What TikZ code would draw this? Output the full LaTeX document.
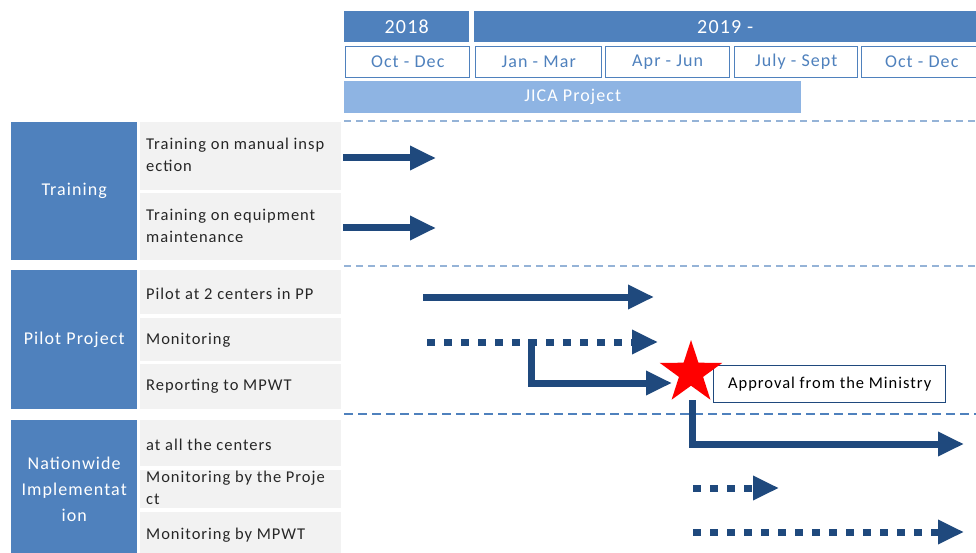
\documentclass[tikz,border=0pt]{standalone}
\usepackage{fontspec}
\setmainfont[LetterSpace=6]{Carlito}
\usetikzlibrary{arrows.meta,shapes.geometric}
\definecolor{hdrblue}{HTML}{4F81BD}
\definecolor{lightblue}{HTML}{8EB4E3}
\definecolor{sepblue}{HTML}{95B3D7}
\definecolor{flowblue}{HTML}{1F497D}
\definecolor{cellgrey}{HTML}{F2F2F2}
\tikzset{
  x=1pt, y=-1pt,
  yearbox/.style={fill=hdrblue, text=white, anchor=north west, inner sep=0pt,
    font=\fontsize{20}{22}\selectfont},
  monthbox/.style={fill=white, draw=hdrblue, line width=1.4pt, text=hdrblue,
    anchor=north west, inner sep=0pt, font=\fontsize{18}{20}\selectfont},
  jicabar/.style={fill=lightblue, text=white, anchor=north west, inner sep=0pt,
    font=\fontsize{18}{20}\selectfont},
  catbox/.style={fill=hdrblue, text=white, anchor=north west, inner sep=0pt,
    align=center, font=\fontsize{18}{26}\selectfont},
  taskcell/.style={fill=cellgrey, anchor=north west, inner sep=0pt},
  tasktext/.style={anchor=west, align=left, inner sep=0pt, text=black!85,
    font=\fontsize{16.5}{22}\selectfont},
  sepline/.style={sepblue, line width=2.4pt, dash pattern=on 7pt off 5pt},
  septhin/.style={hdrblue, line width=1.3pt, dash pattern=on 9pt off 5pt},
  flow/.style={flowblue, line width=7pt, -{Triangle[length=26pt,width=23pt]}},
  flowdot/.style={flow, dash pattern=on 8pt off 9pt},
  notebox/.style={fill=white, draw=flowblue, line width=1.4pt, anchor=north west,
    inner sep=0pt, font=\fontsize{16.5}{18}\selectfont}
}
\begin{document}
\begin{tikzpicture}
\useasboundingbox (0,0) rectangle (976,553);

% timeline header
\node[yearbox, minimum width=125pt, minimum height=31pt] (y2018) at (344,11) {2018};
\node[yearbox, minimum width=502pt, minimum height=31pt] (y2019) at (474,11) {2019 -};
\node[monthbox, minimum width=124pt, minimum height=31pt] (q1) at (345,46) {Oct - Dec};
\node[monthbox, minimum width=126pt, minimum height=31pt] (q2) at (475,46) {Jan - Mar};
\node[monthbox, minimum width=124pt, minimum height=31pt] (q3) at (605,46) {Apr - Jun};
\node[monthbox, minimum width=123pt, minimum height=31pt] (q4) at (734,46) {July - Sept};
\node[monthbox, minimum width=120pt, minimum height=31pt] (q5) at (861,46) {Oct - Dec};
\node[jicabar, minimum width=457pt, minimum height=32pt] (jica) at (344,81) {JICA Project};

% section separators
\coordinate (s1a) at (344,121); \coordinate (s1b) at (976,121);
\coordinate (s2a) at (344,266); \coordinate (s2b) at (976,266);
\coordinate (s3a) at (344,414); \coordinate (s3b) at (976,414);
\draw[sepline] (s1a) -- (s1b);
\draw[sepline] (s2a) -- (s2b);
\draw[septhin] (s3a) -- (s3b);

% categories
\node[catbox, minimum width=126pt, minimum height=138pt] (catT) at (11,122) {Training};
\node[catbox, minimum width=126pt, minimum height=139pt] (catP) at (11,270) {Pilot Project};
\node[catbox, minimum width=126pt, minimum height=133pt] (catN) at (11,420) {};
\node[text=white, align=center, inner sep=0pt, font=\fontsize{18}{26}\selectfont]
  (catNtxt) at ([yshift=-3pt]catN.center) {Nationwide\\Implementat\\ion};

% task cells
\node[taskcell, minimum width=201pt, minimum height=68pt] (t1) at (140,122) {};
\node[taskcell, minimum width=201pt, minimum height=67pt] (t2) at (140,193) {};
\node[taskcell, minimum width=201pt, minimum height=44pt] (p1) at (140,270) {};
\node[taskcell, minimum width=201pt, minimum height=43pt] (p2) at (140,318) {};
\node[taskcell, minimum width=201pt, minimum height=45pt] (p3) at (140,364) {};
\node[taskcell, minimum width=201pt, minimum height=46pt] (n1) at (140,420) {};
\node[taskcell, minimum width=201pt, minimum height=38pt] (n2) at (140,470) {};
\node[taskcell, minimum width=201pt, minimum height=41pt] (n3) at (140,512) {};

\node[tasktext] (t1txt) at (146,155) {Training on manual insp\\ection};
\begin{scope}
  \clip (140,193) rectangle (341,241);
  \node[tasktext] (t2txt) at (146,226) {Training on equipment\\maintenance};
\end{scope}
\node[tasktext] (p1txt) at (146,294) {Pilot at 2 centers in PP};
\node[tasktext] (p2txt) at (146,340) {Monitoring};
\node[tasktext] (p3txt) at (146,386) {Reporting to MPWT};
\node[tasktext] (n1txt) at (146,445) {at all the centers};
\node[tasktext] (n2txt) at (146,488) {Monitoring by the Proje\\ct};
\node[tasktext] (n3txt) at (146,535) {Monitoring by MPWT};

% approval milestone
\node[notebox, minimum width=232pt, minimum height=37pt] (approval) at (713,365) {Approval from the Ministry};
\node[star, star points=5, star point ratio=2.6, fill=red, minimum size=66pt, inner sep=0pt] (ministar) at (691,373) {};

% schedule flows
\coordinate (a1s) at (343,158); \coordinate (a1e) at (436,158);
\coordinate (a2s) at (343,228); \coordinate (a2e) at (436,228);
\coordinate (a3s) at (423,297); \coordinate (a3e) at (654,297);
\coordinate (a4s) at (427,342); \coordinate (a4e) at (658,342);
\coordinate (rsplit) at (531,339); \coordinate (rcorner) at (531,383); \coordinate (re) at (672,383);
\coordinate (nsplit) at (692,400); \coordinate (ncorner) at (692,444); \coordinate (ne) at (964,444);
\coordinate (m1s) at (693,488); \coordinate (m1e) at (779,488);
\coordinate (m2s) at (693,532); \coordinate (m2e) at (964,532);

\draw[flow] (a1s) -- (a1e);
\draw[flow] (a2s) -- (a2e);
\draw[flow] (a3s) -- (a3e);
\draw[flowdot] (a4s) -- (a4e);
\draw[flow] (rsplit) -- (rcorner) -- (re);
\draw[flow] (nsplit) -- (ncorner) -- (ne);
\draw[flowdot] (m1s) -- (m1e);
\draw[flowdot] (m2s) -- (m2e);
\end{tikzpicture}
\end{document}
